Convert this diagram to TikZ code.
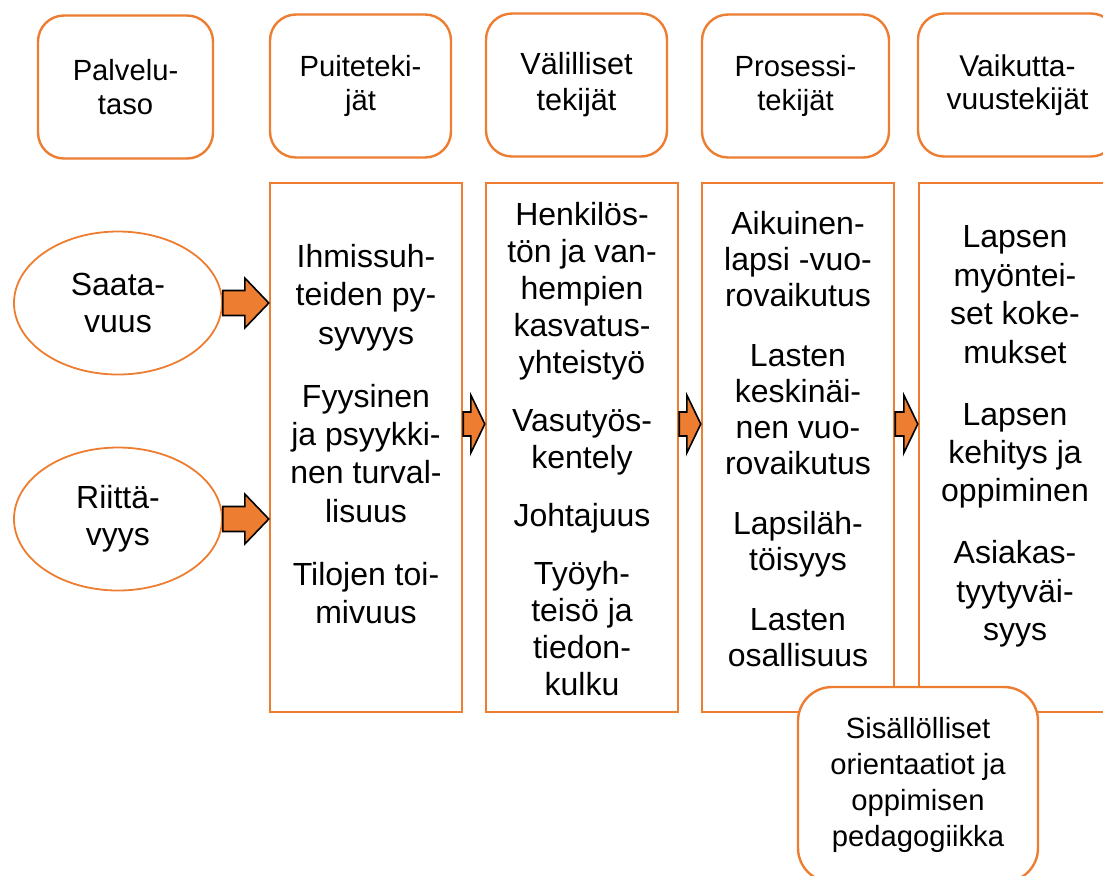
\documentclass[tikz,border=0pt]{standalone}
\usepackage{fontspec}
\setmainfont{Liberation Sans}
\usetikzlibrary{calc,shapes.geometric}
\definecolor{accent}{RGB}{237,125,49}

% fat block arrow: start, tip, head length, shaft half width, head half width
\newcommand{\fatarrow}[5]{%
\draw[fatarr] ($(#1)+(0,#4)$) -- ($(#2)+(-#3,#4)$) -- ($(#2)+(-#3,#5)$) -- (#2)
  -- ($(#2)+(-#3,-#5)$) -- ($(#2)+(-#3,-#4)$) -- ($(#1)+(0,-#4)$) -- cycle;}

\begin{document}
\begin{tikzpicture}[x=0.5pt,y=-0.5pt,
  headbox/.style={draw=accent,line width=1.2pt,rounded corners=13pt,minimum height=71.5pt,
    align=center,font=\fontsize{14.6}{17}\selectfont},
  colbox/.style={draw=accent,line width=1.2pt,minimum width=96pt,minimum height=264.5pt},
  coltext/.style={anchor=north,inner sep=0pt,align=center,font=\fontsize{16}{#1}\selectfont},
  level/.style={draw=accent,line width=0.9pt,ellipse,minimum width=104pt,minimum height=71.5pt,
    align=center,font=\fontsize{16}{18.5}\selectfont},
  fatarr/.style={draw=black,line width=0.8pt,fill=accent,line join=miter}]
\useasboundingbox (0,0) rectangle (1103,875);
\clip (0,0) rectangle (1103,875);

% header row
\node[headbox,minimum width=87.5pt] (palv) at (125.5,87) {Palvelu-\\taso};
\node[headbox,minimum width=90.5pt] (hpuite) at (360.5,86) {Puiteteki-\\jät};
\node[headbox,minimum width=90.5pt,font=\fontsize{15.3}{18}\selectfont] (hvali) at (576.5,85) {Välilliset\\tekijät};
\node[headbox,minimum width=93.5pt] (hpros) at (795.5,86) {Prosessi-\\tekijät};
\node[headbox,minimum width=99.5pt,font=\fontsize{15}{16.5}\selectfont] (hvaik) at (1017.5,85) {Vaikutta-\\vuustekijät};

% service level
\node[level] (sat) at (118,303) {Saata-\\vuus};
\node[level] (riit) at (118,519) {Riittä-\\vyys};

% columns
\node[colbox] (puite) at (366,447.5) {};
\node[colbox] (vali) at (582,447.5) {};
\node[colbox] (pros) at (798,447.5) {};
\node[colbox] (vaik) at (1015,447.5) {};

\node[coltext=19.15] (puitetxt) at (366,244) {Ihmissuh-\\teiden py-\\syvyys\\[12.4pt]Fyysinen\\ja psyykki-\\nen turval-\\lisuus\\[12.4pt]Tilojen toi-\\mivuus};
\node[coltext=18.5] (valitxt) at (582,201.5) {Henkilös-\\tön ja van-\\hempien\\kasvatus-\\yhteistyö\\[10.5pt]Vasutyös-\\kentely\\[10.5pt]Johtajuus\\[10.5pt]Työyh-\\teisö ja\\tiedon-\\kulku};
\node[coltext=18] (prostxt) at (798,210.5) {Aikuinen-\\lapsi -vuo-\\rovaikutus\\[12pt]Lasten\\keskinäi-\\nen vuo-\\rovaikutus\\[12pt]Lapsiläh-\\töisyys\\[12pt]Lasten\\osallisuus};
\node[coltext=19.2] (vaiktxt) at (1015,225.5) {Lapsen\\myöntei-\\set koke-\\mukset\\[11.8pt]Lapsen\\kehitys ja\\oppiminen\\[11.8pt]Asiakas-\\tyytyväi-\\syys};

% arrows
\coordinate (t1) at (sat.east -| puite.west);
\coordinate (t2) at (riit.east -| puite.west);
\fatarrow{sat.east}{t1}{24}{12.5}{25}
\fatarrow{riit.east}{t2}{24}{12.5}{25}
\coordinate (s3) at ($(puite.east)+(0,-23.5)$);
\coordinate (t3) at (s3 -| vali.west);
\coordinate (s4) at ($(vali.east)+(0,-23.5)$);
\coordinate (t4) at (s4 -| pros.west);
\coordinate (s5) at ($(pros.east)+(0,-23.5)$);
\coordinate (t5) at (s5 -| vaik.west);
\fatarrow{s3}{t3}{14}{12}{29}
\fatarrow{s4}{t4}{14}{12}{29}
\fatarrow{s5}{t5}{14}{12}{29}

% pedagogy box
\node[headbox,rounded corners=17pt,fill=white,minimum width=120pt,minimum height=97.5pt,
  font=\fontsize{14.6}{18}\selectfont] (sis) at (918,784.5) {Sisällölliset\\orientaatiot ja\\oppimisen\\pedagogiikka};
\end{tikzpicture}
\end{document}
